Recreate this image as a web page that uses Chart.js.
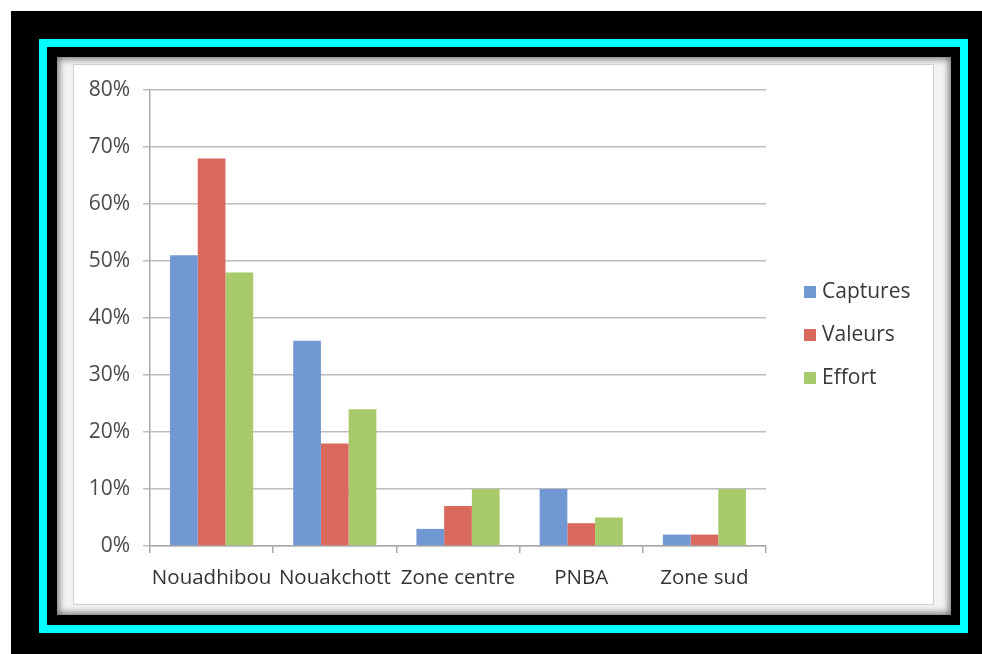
<!DOCTYPE html>
<html>
<head>
<meta charset="utf-8">
<script src="https://cdn.jsdelivr.net/npm/chart.js@4/dist/chart.umd.min.js"></script>
<style>
  html, body { margin: 0; padding: 0; background: #ffffff; }
  body { width: 982px; height: 654px; position: relative; overflow: hidden; }
  .outer { position: absolute; left: 11px; top: 11px; right: 0; bottom: 0; background: #000; }
  .cyan { position: absolute; left: 39px; top: 39px; width: 913px; height: 578px; border: 8px solid #00ffff; }
  .panel { position: absolute; left: 57px; top: 57px; width: 894px; height: 558px;
           background: #f3f3f3; box-shadow: inset 0 0 7px 2px rgba(0,0,0,0.55); }
  .inner { position: absolute; left: 73px; top: 64px; width: 859px; height: 539px;
           background: #ffffff; border: 1px solid #cfcfcf; }
  #chart { position: absolute; left: 0; top: 0; }
</style>
</head>
<body>
<div class="outer"></div>
<div class="cyan"></div>
<div class="panel"></div>
<div class="inner"></div>
<canvas id="chart" width="982" height="654"></canvas>
<script>
// Regions and their shares (%) of catches, values and fishing effort
const categories = ['Nouadhibou', 'Nouakchott', 'Zone centre', 'PNBA', 'Zone sud'];
const captures = [51, 36, 3, 10, 2];
const valeurs = [68, 18, 7, 4, 2];
const effort = [48, 24, 10, 5, 10];
const seriesNames = ['Captures', 'Valeurs', 'Effort'];
const seriesColors = ['#7198d2', '#d9695c', '#a8ca6a'];

const FONT = "'Open Sans', sans-serif";

// Legend drawn on the right, one row per series
const sideLegend = {
  id: 'sideLegend',
  afterDraw(chart) {
    const ctx = chart.ctx;
    ctx.save();
    ctx.font = '21px ' + FONT;
    ctx.textBaseline = 'middle';
    ctx.textAlign = 'left';
    chart.data.datasets.forEach((ds, i) => {
      const cy = 292 + i * 43;
      ctx.fillStyle = ds.backgroundColor;
      ctx.fillRect(804, cy - 6, 12, 12);
      ctx.fillStyle = '#383838';
      ctx.fillText(ds.label, 822, cy);
    });
    ctx.restore();
  }
};

new Chart(document.getElementById('chart'), {
  type: 'bar',
  data: {
    labels: categories,
    datasets: [
      { label: seriesNames[0], data: captures, backgroundColor: seriesColors[0] },
      { label: seriesNames[1], data: valeurs, backgroundColor: seriesColors[1] },
      { label: seriesNames[2], data: effort, backgroundColor: seriesColors[2] }
    ]
  },
  options: {
    responsive: false,
    animation: false,
    layout: { padding: { left: 0, top: 90, right: 216, bottom: 0 } },
    datasets: { bar: { categoryPercentage: 0.675, barPercentage: 1.0 } },
    plugins: { legend: { display: false }, tooltip: { enabled: false } },
    scales: {
      x: {
        afterFit(scale) { scale.height = 108; },
        grid: { offset: true, drawOnChartArea: false, drawTicks: true, tickLength: 7, color: '#a9a9a9', lineWidth: 1.5 },
        border: { display: true, color: '#a9a9a9', width: 1.5 },
        ticks: { color: '#333333', font: { family: FONT, size: 20.5 }, padding: 13, maxRotation: 0, autoSkip: false }
      },
      y: {
        min: 0, max: 80,
        afterFit(scale) { scale.width = 150; },
        grid: { color: '#bdbdbd', lineWidth: 1.5, tickLength: 7 },
        border: { display: true, color: '#a9a9a9', width: 1.5 },
        ticks: { stepSize: 10, color: '#4a4a4a', font: { family: FONT, size: 21 }, padding: 13,
                 callback: v => v + '%' }
      }
    }
  },
  plugins: [sideLegend]
});
</script>
</body>
</html>
